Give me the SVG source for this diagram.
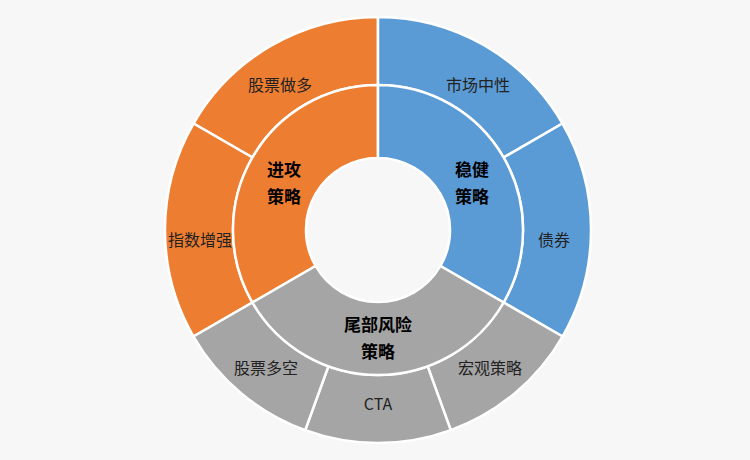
<svg xmlns="http://www.w3.org/2000/svg" width="750" height="460" viewBox="0 0 750 460">
<style>
.s{stroke:#fff;stroke-width:2.5}
.o{fill:#ED7D31}.b{fill:#5B9BD5}.g{fill:#A5A5A5}
text{font-family:"Microsoft YaHei","Noto Sans CJK SC",sans-serif;font-size:16px;fill:#222;text-anchor:middle}
.k{font-weight:bold;font-size:17px;fill:#000}
</style>
<rect width="750" height="460" fill="#f7f7f7"/>
<g id="outer">
<g id="o1"><path class="s o" d="M378,17 A213,213 0 0 0 193.5,123.5 L252.4,157.5 A145,145 0 0 1 378,85Z"/><text x="280" y="91">股票做多</text></g>
<g id="o2"><path class="s o" d="M193.5,123.5 A213,213 0 0 0 193.5,336.5 L252.4,302.5 A145,145 0 0 1 252.4,157.5Z"/><text x="200" y="246">指数增强</text></g>
<g id="b1"><path class="s b" d="M378,17 A213,213 0 0 1 562.5,123.5 L503.6,157.5 A145,145 0 0 0 378,85Z"/><text x="478" y="91">市场中性</text></g>
<g id="b2"><path class="s b" d="M562.5,123.5 A213,213 0 0 1 562.5,336.5 L503.6,302.5 A145,145 0 0 0 503.6,157.5Z"/><text x="554" y="246">债券</text></g>
<g id="g1"><path class="s g" d="M562.5,336.5 A213,213 0 0 1 450.8,430.2 L427.6,366.3 A145,145 0 0 0 503.6,302.5Z"/><text x="490" y="374">宏观策略</text></g>
<g id="g2"><path class="s g" d="M450.8,430.2 A213,213 0 0 1 305.2,430.2 L328.4,366.3 A145,145 0 0 0 427.6,366.3Z"/><text x="378" y="410">CTA</text></g>
<g id="g3"><path class="s g" d="M305.2,430.2 A213,213 0 0 1 193.5,336.5 L252.4,302.5 A145,145 0 0 0 328.4,366.3Z"/><text x="266" y="374">股票多空</text></g>
</g>
<g id="inner">
<g id="in1"><path class="s o" d="M378,85 A145,145 0 0 0 252.4,302.5 L315.6,266 A72,72 0 0 1 378,158Z"/><text class="k" x="284" y="176">进攻</text><text class="k" x="284" y="203">策略</text></g>
<g id="in2"><path class="s b" d="M378,85 A145,145 0 0 1 503.6,302.5 L440.4,266 A72,72 0 0 0 378,158Z"/><text class="k" x="472" y="176">稳健</text><text class="k" x="472" y="203">策略</text></g>
<g id="in3"><path class="s g" d="M503.6,302.5 A145,145 0 0 1 252.4,302.5 L315.6,266 A72,72 0 0 0 440.4,266Z"/><text class="k" x="378" y="331">尾部风险</text><text class="k" x="378" y="358">策略</text></g>
</g>
<g id="connectors"/>
</svg>
